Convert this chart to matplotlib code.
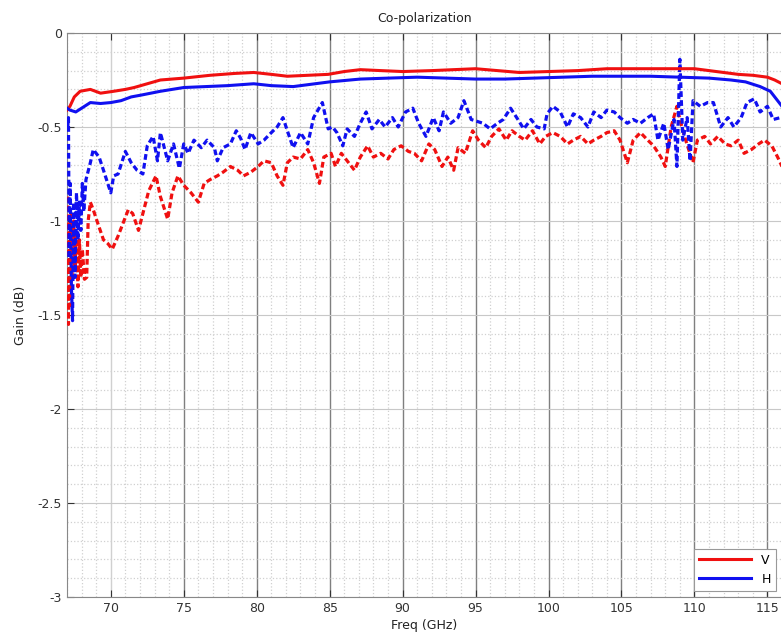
import matplotlib
matplotlib.use("Agg")
import matplotlib.pyplot as plt
from matplotlib.ticker import MultipleLocator

plt.rcParams['font.family'] = ['DejaVu Sans']
plt.rcParams['axes.unicode_minus'] = False

# Solid curves (V = red, H = blue)
v_solid_x = [67.0, 67.2, 67.5, 67.9, 68.6, 69.3, 70.2, 71.0, 71.6, 72.5, 73.4, 75.0, 76.8, 78.5, 79.8,
             81.0, 82.1, 83.5, 84.9, 86.0, 87.1, 88.5, 90.0, 92.0, 93.5, 95.0, 96.5, 98.0, 100.0, 102.0,
             104.0, 106.0, 108.0, 110.0, 111.0, 112.0, 113.0, 114.0, 115.0, 115.5, 116.0]
v_solid_y = [-0.41, -0.39, -0.34, -0.31, -0.30, -0.32, -0.31, -0.30, -0.29, -0.27, -0.25, -0.24, -0.225, -0.215, -0.21,
             -0.22, -0.23, -0.225, -0.22, -0.205, -0.195, -0.20, -0.205, -0.20, -0.195, -0.19, -0.20, -0.21, -0.205, -0.20,
             -0.19, -0.19, -0.19, -0.19, -0.20, -0.21, -0.22, -0.225, -0.235, -0.25, -0.27]

h_solid_x = [67.0, 67.2, 67.6, 68.0, 68.6, 69.3, 70.0, 70.7, 71.4, 72.1, 73.4, 75.0, 76.5, 78.0, 79.8,
             81.0, 82.5, 84.0, 85.0, 87.1, 89.0, 91.0, 93.0, 95.0, 97.0, 99.0, 101.0, 103.0, 105.0, 107.0,
             109.0, 111.0, 112.5, 113.5, 114.5, 115.2, 115.7, 116.0]
h_solid_y = [-0.40, -0.41, -0.42, -0.40, -0.37, -0.375, -0.37, -0.36, -0.34, -0.33, -0.31, -0.29, -0.285, -0.28, -0.27,
             -0.28, -0.285, -0.27, -0.26, -0.245, -0.24, -0.235, -0.24, -0.245, -0.245, -0.24, -0.235, -0.23, -0.23, -0.23,
             -0.235, -0.24, -0.25, -0.26, -0.285, -0.31, -0.36, -0.39]

# Dashed curves
v_dash_x = [67.05, 67.10, 67.15, 67.22, 67.30, 67.38, 67.46, 67.55, 67.65, 67.75, 67.85, 67.95, 68.05, 68.20, 68.35,
            68.45, 68.6, 68.8, 69.1, 69.5, 69.8, 70.1, 70.5, 70.8, 71.2, 71.5, 71.9, 72.3, 72.6, 73.1,
            73.4, 73.9, 74.2, 74.6, 75.0, 75.5, 76.0, 76.4, 76.8, 77.3, 77.7, 78.2, 78.7, 79.1, 79.6,
            80.1, 80.5, 81.0, 81.4, 81.8, 82.1, 82.5, 83.0, 83.5, 83.9, 84.3, 84.6, 85.1, 85.4, 85.8,
            86.2, 86.7, 87.1, 87.6, 88.0, 88.5, 89.0, 89.4, 89.9, 90.4, 90.8, 91.3, 91.8, 92.2, 92.7,
            93.1, 93.5, 93.8, 94.3, 94.8, 95.2, 95.7, 96.1, 96.6, 97.1, 97.5, 98.0, 98.4, 98.9, 99.4,
            99.8, 100.3, 100.8, 101.3, 101.7, 102.2, 102.7, 103.1, 103.6, 104.0, 104.5, 104.9, 105.4, 105.8, 106.3,
            106.8, 107.2, 107.7, 108.0, 108.4, 108.8, 109.0, 109.4, 109.9, 110.2, 110.7, 111.1, 111.6, 112.1, 112.5,
            113.0, 113.4, 113.9, 114.4, 114.8, 115.3, 115.7, 116.0]
v_dash_y = [-0.87, -1.55, -1.00, -1.45, -0.95, -1.30, -1.00, -1.25, -1.05, -1.35, -1.10, -1.30, -1.15, -1.31, -1.30,
            -1.00, -0.90, -0.94, -1.01, -1.10, -1.12, -1.15, -1.08, -1.02, -0.94, -0.96, -1.05, -0.93, -0.84, -0.76,
            -0.87, -0.99, -0.85, -0.76, -0.81, -0.85, -0.90, -0.80, -0.78, -0.76, -0.74, -0.71, -0.73, -0.76, -0.74,
            -0.71, -0.68, -0.69, -0.76, -0.81, -0.69, -0.66, -0.67, -0.62, -0.69, -0.80, -0.66, -0.64, -0.71, -0.64,
            -0.68, -0.73, -0.66, -0.60, -0.66, -0.64, -0.67, -0.62, -0.60, -0.63, -0.64, -0.68, -0.59, -0.62, -0.71,
            -0.66, -0.73, -0.61, -0.64, -0.52, -0.57, -0.61, -0.55, -0.51, -0.57, -0.52, -0.55, -0.57, -0.52, -0.59,
            -0.55, -0.53, -0.55, -0.59, -0.57, -0.55, -0.59, -0.57, -0.55, -0.53, -0.52, -0.57, -0.69, -0.57, -0.53,
            -0.57, -0.60, -0.66, -0.71, -0.50, -0.39, -0.46, -0.57, -0.69, -0.57, -0.55, -0.59, -0.55, -0.59, -0.60,
            -0.57, -0.64, -0.62, -0.59, -0.57, -0.60, -0.66, -0.71]

h_dash_x = [67.05, 67.10, 67.15, 67.22, 67.30, 67.38, 67.45, 67.55, 67.65, 67.75, 67.85, 67.95, 68.05, 68.15, 68.3,
            68.6, 68.8, 69.2, 69.5, 70.0, 70.2, 70.5, 71.0, 71.4, 71.8, 72.2, 72.5, 72.9, 73.2, 73.4,
            73.9, 74.3, 74.7, 75.0, 75.3, 75.7, 76.2, 76.6, 77.1, 77.3, 77.7, 78.2, 78.6, 78.9, 79.2,
            79.6, 80.1, 80.5, 81.0, 81.4, 81.8, 82.1, 82.5, 83.0, 83.5, 83.9, 84.5, 84.9, 85.2, 85.5,
            85.9, 86.2, 86.7, 87.1, 87.5, 87.9, 88.4, 88.8, 89.3, 89.7, 90.2, 90.7, 91.1, 91.6, 92.1,
            92.5, 92.8, 93.3, 93.8, 94.2, 94.7, 95.1, 95.5, 96.0, 96.5, 96.9, 97.4, 97.9, 98.3, 98.8,
            99.2, 99.7, 99.9, 100.3, 100.8, 101.3, 101.7, 102.2, 102.7, 103.1, 103.6, 104.0, 104.5, 104.9, 105.4,
            105.8, 106.3, 106.8, 107.2, 107.5, 107.9, 108.2, 108.6, 108.8, 109.0, 109.2, 109.5, 109.7, 109.9, 110.4,
            110.9, 111.3, 111.8, 112.3, 112.7, 113.2, 113.6, 114.1, 114.5, 115.0, 115.4, 115.9]
h_dash_y = [-0.50, -0.45, -1.20, -0.80, -1.35, -1.53, -0.90, -1.30, -0.85, -1.10, -0.90, -1.05, -0.80, -0.95, -0.78,
            -0.69, -0.62, -0.66, -0.73, -0.85, -0.76, -0.75, -0.63, -0.69, -0.73, -0.75, -0.60, -0.55, -0.68, -0.53,
            -0.68, -0.59, -0.72, -0.59, -0.64, -0.57, -0.61, -0.57, -0.61, -0.68, -0.61, -0.59, -0.52, -0.56, -0.62,
            -0.53, -0.59, -0.57, -0.53, -0.50, -0.45, -0.52, -0.61, -0.53, -0.59, -0.45, -0.37, -0.51, -0.50, -0.53,
            -0.60, -0.51, -0.55, -0.48, -0.42, -0.51, -0.46, -0.50, -0.45, -0.50, -0.42, -0.40, -0.48, -0.55, -0.45,
            -0.52, -0.42, -0.48, -0.45, -0.36, -0.46, -0.47, -0.48, -0.51, -0.48, -0.46, -0.40, -0.46, -0.51, -0.46,
            -0.50, -0.51, -0.43, -0.39, -0.42, -0.50, -0.43, -0.45, -0.50, -0.42, -0.45, -0.41, -0.42, -0.45, -0.48,
            -0.46, -0.48, -0.45, -0.43, -0.57, -0.48, -0.62, -0.46, -0.71, -0.14, -0.57, -0.45, -0.68, -0.36, -0.39,
            -0.37, -0.37, -0.50, -0.45, -0.50, -0.45, -0.37, -0.35, -0.42, -0.39, -0.46, -0.45]

x_ticks = [70, 75, 80, 85, 90, 95, 100, 105, 110, 115]
y_ticks = [0, -0.5, -1, -1.5, -2, -2.5, -3]
y_tick_labels = ["0", "-0.5", "-1", "-1.5", "-2", "-2.5", "-3"]

RED = "#f01010"
BLUE = "#1010f0"

fig = plt.figure(figsize=(7.81, 6.44), dpi=100)
ax = fig.add_axes([67 / 781, 47 / 644, 715 / 781, 564 / 644])

ax.plot(v_dash_x, v_dash_y, color=RED, lw=2.3, ls=(0, (1.8, 1.0)), zorder=3)
ax.plot(h_dash_x, h_dash_y, color=BLUE, lw=2.3, ls=(0, (1.8, 1.0)), zorder=3)
ax.plot(v_solid_x, v_solid_y, color=RED, lw=2.2, label="V", zorder=4)
ax.plot(h_solid_x, h_solid_y, color=BLUE, lw=2.2, label="H", zorder=4)

ax.set_xlim(67, 116)
ax.set_ylim(-3, 0)
ax.set_xticks(x_ticks)
ax.set_yticks(y_ticks)
ax.set_yticklabels(y_tick_labels)
ax.xaxis.set_minor_locator(MultipleLocator(1))
ax.yaxis.set_minor_locator(MultipleLocator(0.1))

ax.grid(which="minor", color="#d0d0d0", ls=":", lw=0.9)
ax.grid(which="major", axis="y", color="#c8c8c8", ls="-", lw=0.8)
ax.grid(which="major", axis="x", color="#7f7f7f", ls="-", lw=1.0)
ax.xaxis.get_major_ticks()[0].gridline.set_color("#d0d0d0")
ax.set_axisbelow(True)

ax.tick_params(which="both", direction="in", top=True, right=False, labelsize=9, colors="#333333")
ax.tick_params(which="major", length=5)
ax.tick_params(which="minor", length=0)
for s in ax.spines.values():
    s.set_color("#888888")

ax.set_title("Co-polarization", fontsize=9, color="#222222", pad=8)
ax.set_xlabel("Freq (GHz)", fontsize=9, color="#222222", labelpad=3)
ax.set_ylabel("Gain (dB)", fontsize=9, color="#222222", labelpad=8)

leg = ax.legend(loc="lower right", fontsize=9, handlelength=4.2, frameon=True, fancybox=False,
                borderaxespad=0.5, framealpha=1)
leg.get_frame().set_edgecolor("#999999")
leg.get_frame().set_linewidth(0.8)

fig.savefig("out.png", dpi=100)
